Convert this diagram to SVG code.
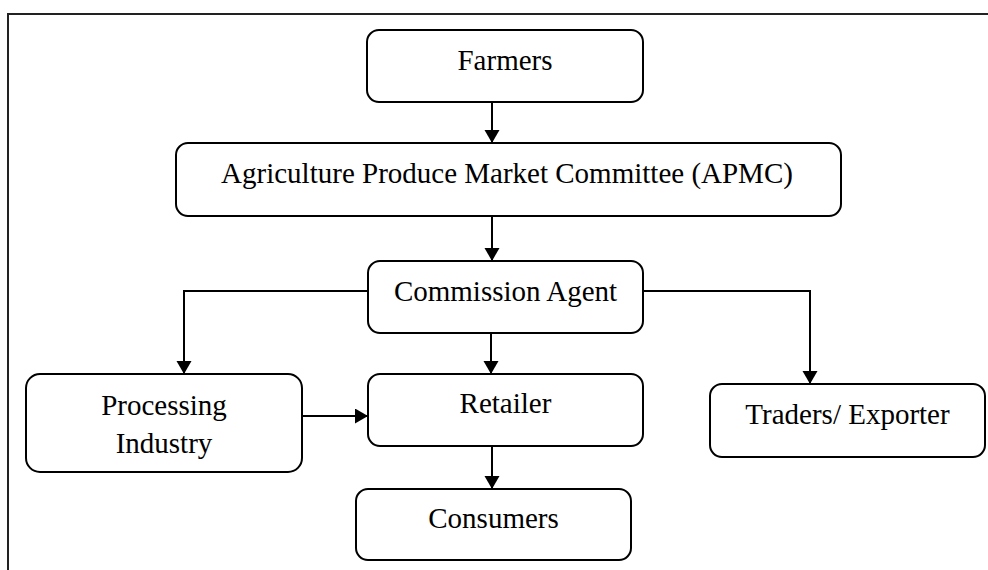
<svg xmlns="http://www.w3.org/2000/svg" width="988" height="570" viewBox="0 0 988 570">
<style>
.box{fill:#fff;stroke:#000;stroke-width:2}
.t{font-family:"Liberation Serif","Times New Roman",serif;font-size:29px;fill:#000;text-anchor:middle}
.c{fill:none;stroke:#000;stroke-width:2}
.frame{fill:none;stroke:#222;stroke-width:2}
</style>
<defs>
<marker id="ah" markerUnits="userSpaceOnUse" markerWidth="14" markerHeight="16" refX="13" refY="7.5" orient="auto">
<path d="M0,0 L13,7.5 L0,15 z" fill="#000"/>
</marker>
</defs>
<path class="frame" d="M8,570 L8,14 L988,14"/>
<g id="connectors">
<path class="c" d="M492,102 L492,143" marker-end="url(#ah)"/>
<path class="c" d="M492,216 L492,261" marker-end="url(#ah)"/>
<path class="c" d="M491,333 L491,374" marker-end="url(#ah)"/>
<path class="c" d="M368,291 L184,291 L184,374" marker-end="url(#ah)"/>
<path class="c" d="M643,291 L810,291 L810,384" marker-end="url(#ah)"/>
<path class="c" d="M302,416 L368,416" marker-end="url(#ah)"/>
<path class="c" d="M492,446 L492,489" marker-end="url(#ah)"/>
</g>
<g id="farmers">
<rect class="box" x="367" y="30" width="276" height="72" rx="12"/>
<text class="t" x="505" y="70">Farmers</text>
</g>
<g id="apmc">
<rect class="box" x="176" y="143" width="665" height="73" rx="12"/>
<text class="t" x="507" y="183">Agriculture Produce Market Committee (APMC)</text>
</g>
<g id="commission-agent">
<rect class="box" x="368" y="261" width="275" height="72" rx="12"/>
<text class="t" x="505.5" y="301">Commission Agent</text>
</g>
<g id="processing-industry">
<rect class="box" x="26" y="374" width="276" height="98" rx="14"/>
<text class="t" x="164" y="415">Processing</text>
<text class="t" x="164" y="453">Industry</text>
</g>
<g id="retailer">
<rect class="box" x="368" y="374" width="275" height="72" rx="12"/>
<text class="t" x="505.5" y="413">Retailer</text>
</g>
<g id="traders-exporter">
<rect class="box" x="710" y="384" width="275" height="73" rx="12"/>
<text class="t" x="847.5" y="424">Traders/ Exporter</text>
</g>
<g id="consumers">
<rect class="box" x="356" y="489" width="275" height="71" rx="12"/>
<text class="t" x="493.5" y="528">Consumers</text>
</g>
</svg>
